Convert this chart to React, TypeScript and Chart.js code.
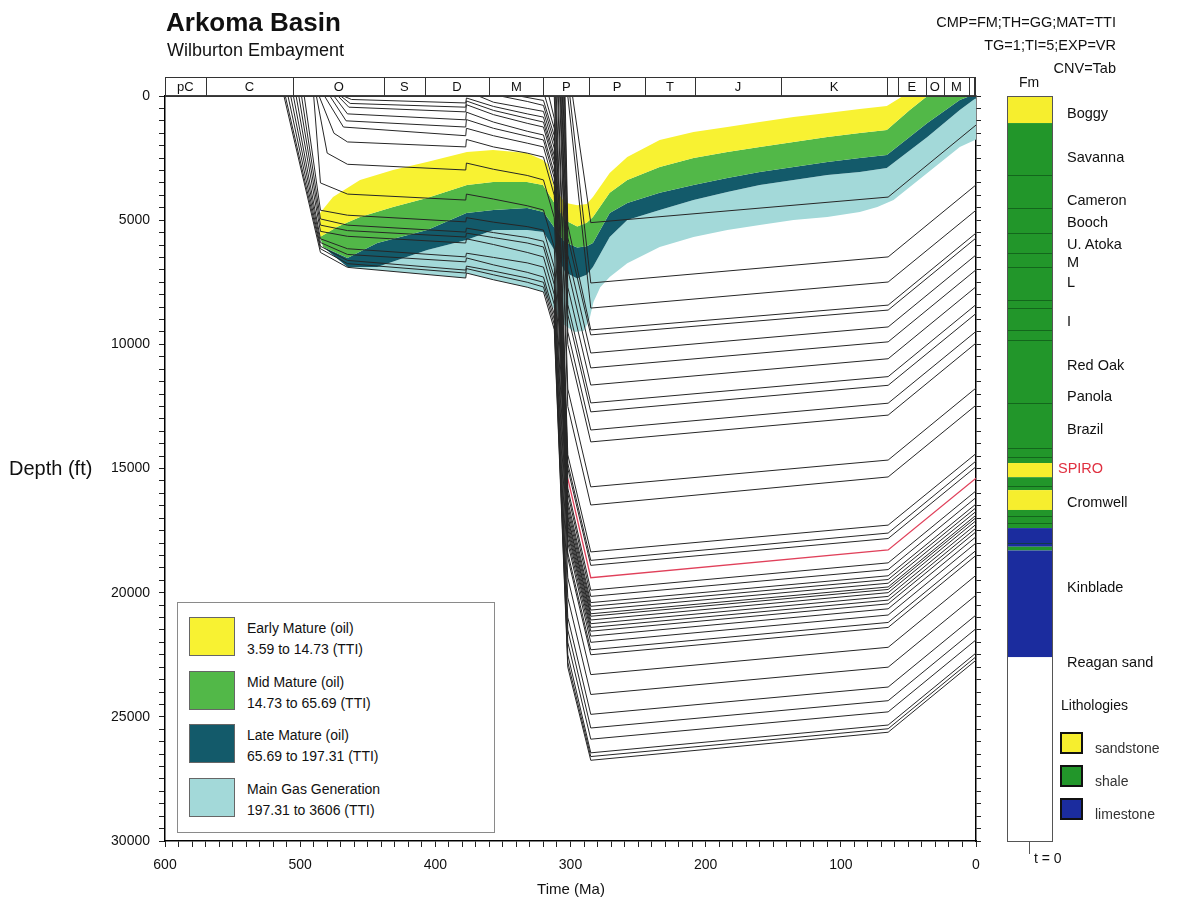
import React, { useEffect, useRef } from 'react';
import { Chart, registerables } from 'chart.js';
Chart.register(...registerables);

const FONT = '"Liberation Sans", Arial, Helvetica, sans-serif';

// ---- Geologic time bar (Ma) ----
const periodBounds = [600, 570, 505, 438, 408, 360, 320, 286, 245, 208, 144, 66, 58, 37, 24, 5, 1.6, 0];
const periodLabels = ['pC', 'C', 'O', 'S', 'D', 'M', 'P', 'P', 'T', 'J', 'K', '', 'E', 'O', 'M', '', ''];

// ---- Burial histories: [age (Ma), depth (ft)] ----
const cambrianHorizons: number[][][] = [
  [[512, 0], [485, 6300], [465, 6900], [377.5, 7330], [377, 7130], [357, 7400], [332, 7700], [320, 7890], [312, 9400], [302, 23000], [285, 26750], [65, 25620], [0, 22720]],
  [[511, 0], [485, 6150], [465, 6750], [377.5, 7130], [377, 6950], [357, 7200], [332, 7500], [320, 7690], [312, 9200], [302, 22800], [285, 26600], [65, 25480], [0, 22580]],
  [[509, 0], [485, 6050], [465, 6620], [377.5, 7010], [377, 6850], [357, 7050], [332, 7330], [320, 7500], [312, 9000], [302, 22500], [285, 26450], [65, 25330], [0, 22430]],
  [[507, 0], [485, 5900], [465, 6380], [377.5, 6680], [377, 6520], [357, 6800], [332, 7100], [320, 7290], [312, 8800], [302, 22000], [285, 25900], [65, 24800], [0, 21900]],
  [[505, 0], [485, 5750], [465, 6150], [377.5, 6480], [377, 6330], [357, 6500], [332, 6720], [320, 6890], [312, 8400], [302, 21500], [285, 25450], [65, 24350], [0, 21450]],
  [[503, 0], [485, 5450], [465, 5650], [377.5, 5920], [377, 5750], [357, 5980], [332, 6300], [320, 6480], [312, 8000], [302, 21000], [285, 24900], [65, 23800], [0, 20900]],
  [[501, 0], [485, 5200], [465, 5420], [377.5, 5680], [377, 5520], [357, 5700], [332, 5920], [320, 6080], [312, 7600], [302, 20200], [285, 24100], [65, 23000], [0, 20100]],
  [[499, 0], [485, 4950], [465, 5200], [377.5, 5480], [377, 5320], [357, 5500], [332, 5700], [320, 5850], [312, 7300], [302, 19400], [285, 23300], [65, 22200], [0, 19300]],
  [[497, 0], [485, 4600], [465, 4800], [377.5, 5070], [377, 4900], [357, 5080], [332, 5260], [320, 5400], [312, 6900], [302, 18600], [285, 22500], [65, 21400], [0, 18500]],
];

const ordovicianHorizons: number[][][] = [
  [[490, 0], [485, 3500], [465, 3950], [377.5, 4190], [377, 3950], [357, 4150], [332, 4420], [320, 4590], [312, 6100], [302, 18400], [285, 22300], [65, 21200], [0, 18300]],
  [[488, 0], [480, 2300], [465, 2750], [377.5, 2980], [377, 2700], [357, 2950], [332, 3200], [320, 3380], [312, 4900], [302, 18000], [285, 22000], [65, 20900], [0, 18000]],
  [[486, 0], [475, 1500], [465, 1850], [377.5, 2050], [377, 1750], [357, 2050], [332, 2300], [320, 2460], [312, 4000], [302, 17800], [285, 21750], [65, 20650], [0, 17750]],
  [[482, 0], [468, 1250], [377.5, 1600], [377, 1300], [357, 1600], [332, 1900], [320, 2050], [312, 3600], [302, 17600], [285, 21550], [65, 20450], [0, 17550]],
  [[478, 0], [466, 1000], [377.5, 1250], [377, 950], [357, 1300], [332, 1620], [320, 1770], [312, 3300], [302, 17450], [285, 21400], [65, 20300], [0, 17400]],
  [[475, 0], [465, 720], [377.5, 960], [377, 650], [357, 1050], [332, 1420], [320, 1570], [312, 3100], [302, 17300], [285, 21250], [65, 20150], [0, 17250]],
  [[472, 0], [464, 450], [377.5, 640], [377, 350], [357, 750], [332, 1100], [320, 1250], [312, 2800], [302, 17150], [285, 21100], [65, 20000], [0, 17100]],
  [[470, 0], [463, 300], [377.5, 450], [377, 200], [357, 580], [332, 900], [320, 1050], [312, 2600], [302, 17000], [285, 20950], [65, 19870], [0, 16980]],
  [[468, 0], [462, 140], [377.5, 280], [377, 80], [357, 420], [332, 720], [320, 850], [312, 2400], [302, 16900], [285, 20850], [65, 19770], [0, 16880]],
];

const devMissHorizons: number[][][] = [
  [[368, 0], [357, 250], [332, 500], [320, 620], [312, 2100], [302, 16700], [285, 20700], [65, 19620], [0, 16730]],
  [[352, 0], [332, 220], [320, 380], [312, 1850], [302, 16500], [285, 20550], [65, 19470], [0, 16580]],
  [[338, 0], [320, 180], [312, 1600], [302, 16300], [285, 20400], [65, 19320], [0, 16430]],
];

const morrowHorizons: number[][][] = [
  [[319, 0], [312, 1300], [302, 16000], [285, 20150], [65, 19070], [0, 16170]],
  [[316, 0], [312, 900], [302, 15800], [285, 19900], [65, 18800], [0, 15900]],
];

const spiroHorizon: number[][] = [[312, 0], [302, 15400], [285, 19400], [65, 18280], [0, 15390]];

const atokaHorizons: number[][][] = [
  [[311.5, 0], [302, 15000], [285, 18900], [65, 17820], [0, 14930]],
  [[311, 0], [302, 14800], [285, 18700], [65, 17600], [0, 14700]],
  [[310.5, 0], [302, 14450], [285, 18360], [65, 17280], [0, 14400]],
  [[309.5, 0], [302, 12500], [285, 16470], [65, 15340], [0, 12450]],
  [[309, 0], [302, 11800], [285, 15740], [65, 14660], [0, 11760]],
  [[308, 0], [302, 10000], [285, 13930], [65, 12850], [0, 9950]],
  [[307.5, 0], [302, 9500], [285, 13450], [65, 12370], [0, 9480]],
  [[307, 0], [302, 8800], [285, 12720], [65, 11650], [0, 8760]],
  [[306.5, 0], [302, 8400], [285, 12360], [65, 11300], [0, 8400]],
  [[306, 0], [302, 7700], [285, 11640], [65, 10580], [0, 7680]],
  [[305.5, 0], [302, 7000], [285, 10950], [65, 9900], [0, 7000]],
  [[305, 0], [302, 6400], [285, 10350], [65, 9300], [0, 6400]],
  [[304.5, 0], [302, 5700], [285, 9620], [65, 8620], [0, 5720]],
  [[304, 0], [302, 5200], [285, 9420], [65, 8420], [0, 5520]],
  [[302, 0], [285, 8540], [65, 7490], [0, 4600]],
  [[300.5, 0], [285, 7530], [65, 6480], [0, 3580]],
  [[298.5, 0], [285, 5100], [65, 4070], [0, 1170]],
];

// ---- Iso-TTI maturity boundaries: [age (Ma), depth (ft)] ----
const tti3p59: number[][] = [[485.3, 4710], [475.7, 4070], [455.7, 3380], [431.3, 2980], [406.2, 2660], [376.6, 2260], [357.3, 2170], [332.2, 2300], [320.4, 2580], [317, 2750], [312, 3700], [304, 4300], [295, 4400], [288, 4350], [283.4, 4070], [271, 3100], [258, 2460], [234, 1770], [209, 1450], [184, 1250], [160, 1050], [135, 850], [110, 680], [86, 520], [66, 400], [54, 0], [0, 0]];
const tti14p73: number[][] = [[485.3, 5680], [472.8, 5280], [455.7, 4870], [431.3, 4470], [406.2, 4110], [376.6, 3580], [357.3, 3460], [332.2, 3460], [320.4, 3580], [312, 4300], [304, 5000], [295, 5250], [288, 5100], [283.4, 4870], [271, 3900], [258, 3380], [234, 2860], [209, 2500], [184, 2250], [160, 2050], [135, 1850], [110, 1650], [86, 1490], [66, 1370], [49, 560], [36, 0], [0, 0]];
const tti65p69: number[][] = [[483, 6080], [465, 6520], [443, 5920], [406, 5400], [377, 4710], [357, 4590], [332, 4510], [320, 4670], [312, 5300], [304, 5900], [295, 6100], [288, 6050], [283.4, 5920], [271, 4710], [258, 4310], [234, 3900], [209, 3580], [184, 3300], [160, 3060], [135, 2860], [110, 2660], [86, 2500], [66, 2380], [36, 1090], [12, 160], [4.4, 0], [0, 0]];
const tti197p31: number[][] = [[465, 6890], [443, 6890], [406, 6200], [377, 5800], [357, 5400], [332, 5400], [320, 5480], [312, 6200], [304, 7100], [295, 7350], [288, 7200], [283.4, 6890], [271, 5680], [258, 4990], [234, 4590], [209, 4190], [184, 3870], [160, 3580], [135, 3380], [110, 3180], [86, 3060], [66, 2900], [36, 1650], [12, 560], [0, 80]];
const tti3606: number[][] = [[462, 6915], [431, 7070], [406, 7190], [377.5, 7330], [377, 7130], [357, 7400], [332, 7700], [320, 7890], [312, 8600], [305, 9200], [297, 9500], [290, 9450], [286, 9000], [283, 8300], [278, 7700], [271, 7290], [258, 6730], [234, 6080], [209, 5680], [184, 5400], [160, 5190], [135, 4990], [110, 4870], [86, 4670], [73, 4470], [61, 4190], [36, 3100], [12, 2050], [0, 1750]];

const zoneColors = ['#f8f232', '#52b848', '#135a6a', '#a3d9d9'];
const zoneNames = ['Early Mature (oil)', 'Mid Mature (oil)', 'Late Mature (oil)', 'Main Gas Generation'];
const zoneRanges = ['3.59 to 14.73 (TTI)', '14.73 to 65.69 (TTI)', '65.69 to 197.31 (TTI)', '197.31 to 3606 (TTI)'];

// ---- Present-day stratigraphic column (depth ft) ----
const columnTops = [0, 1090, 14780, 15350, 15870, 16670, 17400, 18150, 18300, 22600];
const columnBases = [1090, 14780, 15350, 15870, 16670, 17400, 18150, 18300, 22600, 30000];
const columnLith = ['sandstone', 'shale', 'sandstone', 'shale', 'sandstone', 'shale', 'limestone', 'shale', 'limestone', 'none'];
const columnBreaks = [3190, 4510, 5520, 6320, 6890, 8210, 8540, 9420, 9830, 12360, 14180, 14540, 15700, 16900, 17200, 18000];
const lithColors: Record<string, string> = { sandstone: '#f6ee2e', shale: '#22962a', limestone: '#1b2c9e', none: '#ffffff' };

const formationNames = ['Boggy', 'Savanna', 'Cameron', 'Booch', 'U. Atoka', 'M', 'L', 'I', 'Red Oak', 'Panola', 'Brazil', 'SPIRO', 'Cromwell', 'Kinblade', 'Reagan sand'];
const formationLabelDepths = [680, 2450, 4170, 5080, 5960, 6680, 7490, 9060, 10830, 12080, 13410, 14980, 16350, 19770, 22800];

const toPts = (h: number[][]) => h.map(([x, y]) => ({ x, y }));

function lineDs(h: number[][], color = '#262626', w = 1) {
  return { data: toPts(h), showLine: true, borderColor: color, borderWidth: w, pointRadius: 0, pointHoverRadius: 0, fill: false, tension: 0 };
}
function zoneDs(upper: number[][], lower: number[][], color: string) {
  return { data: toPts([...upper, ...lower.slice().reverse()]), showLine: true, borderWidth: 0, borderColor: 'rgba(0,0,0,0)', backgroundColor: color, pointRadius: 0, pointHoverRadius: 0, fill: 'shape', tension: 0 };
}

const decorPlugin = {
  id: 'decor',
  afterDraw(chart: any) {
    const { ctx, chartArea, scales } = chart;
    const xs = scales.x;
    const ys = scales.y;
    ctx.save();
    // top border
    ctx.strokeStyle = '#000';
    ctx.lineWidth = 1.5;
    ctx.beginPath();
    ctx.moveTo(chartArea.left, chartArea.top);
    ctx.lineTo(chartArea.right, chartArea.top);
    ctx.stroke();
    // period bar
    const top = chartArea.top - 19;
    const bot = chartArea.top;
    ctx.lineWidth = 1;
    ctx.strokeStyle = '#333';
    ctx.strokeRect(chartArea.left + 0.5, top + 0.5, chartArea.right - chartArea.left - 1, bot - top);
    for (let i = 1; i < periodBounds.length - 1; i++) {
      const px = Math.round(xs.getPixelForValue(periodBounds[i])) + 0.5;
      ctx.beginPath();
      ctx.moveTo(px, top);
      ctx.lineTo(px, bot);
      ctx.stroke();
    }
    ctx.fillStyle = '#111';
    ctx.font = `13px ${FONT}`;
    ctx.textAlign = 'center';
    ctx.textBaseline = 'middle';
    for (let i = 0; i < periodLabels.length; i++) {
      if (!periodLabels[i]) continue;
      const mid = (xs.getPixelForValue(periodBounds[i]) + xs.getPixelForValue(periodBounds[i + 1])) / 2;
      ctx.fillText(periodLabels[i], mid, (top + bot) / 2 + 1);
    }
    // stratigraphic column
    const cx = 1007;
    const cw = 45;
    for (let i = 0; i < columnTops.length; i++) {
      const y0 = ys.getPixelForValue(columnTops[i]);
      const y1 = ys.getPixelForValue(columnBases[i]);
      ctx.fillStyle = lithColors[columnLith[i]];
      ctx.fillRect(cx, y0, cw, y1 - y0);
    }
    ctx.strokeStyle = 'rgba(10,70,20,0.6)';
    ctx.lineWidth = 1;
    for (const d of columnBreaks) {
      const y = Math.round(ys.getPixelForValue(d)) + 0.5;
      ctx.beginPath();
      ctx.moveTo(cx, y);
      ctx.lineTo(cx + cw, y);
      ctx.stroke();
    }
    ctx.strokeStyle = '#555';
    ctx.strokeRect(cx + 0.5, ys.getPixelForValue(0) + 0.5, cw, ys.getPixelForValue(30000) - ys.getPixelForValue(0));
    // t = 0 tick
    ctx.beginPath();
    ctx.moveTo(1029.5, ys.getPixelForValue(30000));
    ctx.lineTo(1029.5, ys.getPixelForValue(30000) + 13);
    ctx.stroke();
    ctx.restore();
  },
};

export default function App() {
  const ref = useRef<HTMLCanvasElement>(null);
  useEffect(() => {
    const lines = [
      ...cambrianHorizons, ...ordovicianHorizons, ...devMissHorizons, ...morrowHorizons, ...atokaHorizons,
      spiroHorizon.slice(0, 2), // steep early part of Spiro, hidden in the black bundle
    ].map((h) => lineDs(h));
    const spiroRed = lineDs(spiroHorizon.slice(1), '#e0405a', 1.3);
    const zones = [
      zoneDs(tti3p59, tti14p73, zoneColors[0]),
      zoneDs(tti14p73, tti65p69, zoneColors[1]),
      zoneDs(tti65p69, tti197p31, zoneColors[2]),
      zoneDs(tti197p31, tti3606, zoneColors[3]),
    ];
    const datasets: any[] = [...lines, spiroRed, ...zones];
    const tickFont = { family: FONT, size: 14 };
    const chart = new Chart(ref.current as HTMLCanvasElement, {
      type: 'scatter',
      data: { datasets },
      plugins: [decorPlugin],
      options: {
        animation: false,
        responsive: false,
        maintainAspectRatio: false,
        events: [],
        layout: { padding: { left: 0, right: 195, top: 96, bottom: 0 } },
        plugins: {
          legend: { display: false },
          tooltip: { enabled: false },
          filler: { propagate: false, drawTime: 'beforeDatasetsDraw' },
        } as any,
        scales: {
          x: {
            type: 'linear',
            reverse: true,
            min: 0,
            max: 600,
            position: 'bottom',
            afterFit: (s: any) => { s.height = 59; },
            border: { display: true, color: '#000', width: 1.5 },
            grid: { drawOnChartArea: false, drawTicks: true, tickLength: 6, color: '#222' },
            ticks: {
              stepSize: 10, maxTicksLimit: 1000, autoSkip: false, maxRotation: 0, padding: 10,
              color: '#111', font: tickFont,
              callback: (v: any) => (Number(v) % 100 === 0 ? String(v) : ''),
            },
          },
          y: {
            type: 'linear',
            reverse: true,
            min: 0,
            max: 30000,
            position: 'left',
            afterFit: (s: any) => { s.width = 165; },
            border: { display: true, color: '#000', width: 1.5 },
            grid: { drawOnChartArea: false, drawTicks: true, tickLength: 6, color: '#222' },
            ticks: {
              stepSize: 500, maxTicksLimit: 1000, autoSkip: false, padding: 9,
              color: '#111', font: tickFont,
              callback: (v: any) => (Number(v) % 5000 === 0 ? String(v) : ''),
            },
          },
          y2: {
            type: 'linear',
            reverse: true,
            min: 0,
            max: 30000,
            position: 'right',
            afterFit: (s: any) => { s.width = 6; },
            border: { display: true, color: '#000', width: 1.5 },
            grid: { drawOnChartArea: false, drawTicks: true, tickLength: 5, color: '#222' },
            ticks: { stepSize: 500, maxTicksLimit: 1000, autoSkip: false, display: true, padding: 0, color: 'rgba(0,0,0,0)', font: { size: 1 }, callback: () => '' },
          },
        },
      } as any,
    });
    return () => chart.destroy();
  }, []);

  const abs = (left: number, top: number, extra: any = {}) => ({
    position: 'absolute' as const, left, top, transform: 'translateY(-50%)', whiteSpace: 'nowrap' as const, lineHeight: 1, ...extra,
  });
  const labelY = (d: number) => 96 + (d / 30000) * 745;

  return (
    <div style={{ position: 'absolute', left: 0, top: 0, width: 1177, height: 900, background: '#fff', fontFamily: FONT, color: '#111', overflow: 'hidden' }}>
      <canvas ref={ref} width={1177} height={900} style={{ position: 'absolute', left: 0, top: 0, width: 1177, height: 900 }} />
      <div style={abs(166, 22, { fontSize: 26, fontWeight: 'bold' })}>Arkoma Basin</div>
      <div style={abs(167, 50, { fontSize: 18 })}>Wilburton Embayment</div>
      <div style={abs(0, 22, { fontSize: 14.5, width: 1116, textAlign: 'right' })}>CMP=FM;TH=GG;MAT=TTI</div>
      <div style={abs(0, 45, { fontSize: 14.5, width: 1116, textAlign: 'right' })}>TG=1;TI=5;EXP=VR</div>
      <div style={abs(0, 68, { fontSize: 14.5, width: 1116, textAlign: 'right' })}>CNV=Tab</div>
      <div style={abs(1019, 82, { fontSize: 14 })}>Fm</div>
      <div style={abs(9, 468, { fontSize: 20 })}>Depth (ft)</div>
      <div style={abs(0, 888, { fontSize: 15, width: 1142, textAlign: 'center' })}>Time (Ma)</div>
      <div style={{ position: 'absolute', left: 177, top: 602, width: 318, height: 231, border: '1px solid #8a8a8a', background: '#fff', boxSizing: 'border-box' }} />
      {zoneNames.map((n, i) => {
        const t = 617 + i * 53.7;
        return (
          <React.Fragment key={n}>
            <div style={{ position: 'absolute', left: 189, top: t, width: 46, height: 39, background: zoneColors[i], border: '1px solid #666', boxSizing: 'border-box' }} />
            <div style={abs(247, t + 11, { fontSize: 14 })}>{n}</div>
            <div style={abs(247, t + 32, { fontSize: 14 })}>{zoneRanges[i]}</div>
          </React.Fragment>
        );
      })}
      {formationNames.map((n, i) => (
        <div key={n + i} style={abs(n === 'SPIRO' ? 1058 : 1067, labelY(formationLabelDepths[i]), { fontSize: 14.5, color: n === 'SPIRO' ? '#e03040' : '#111' })}>{n}</div>
      ))}
      <div style={abs(1061, 705, { fontSize: 14 })}>Lithologies</div>
      {['sandstone', 'shale', 'limestone'].map((l, i) => (
        <React.Fragment key={l}>
          <div style={{ position: 'absolute', left: 1060, top: 732 + i * 33, width: 23, height: 22, background: lithColors[l], border: '2px solid #111', boxSizing: 'border-box' }} />
          <div style={abs(1095, 748 + i * 33, { fontSize: 14, color: '#333' })}>{l}</div>
        </React.Fragment>
      ))}
      <div style={abs(1034, 858, { fontSize: 14 })}>t = 0</div>
    </div>
  );
}
